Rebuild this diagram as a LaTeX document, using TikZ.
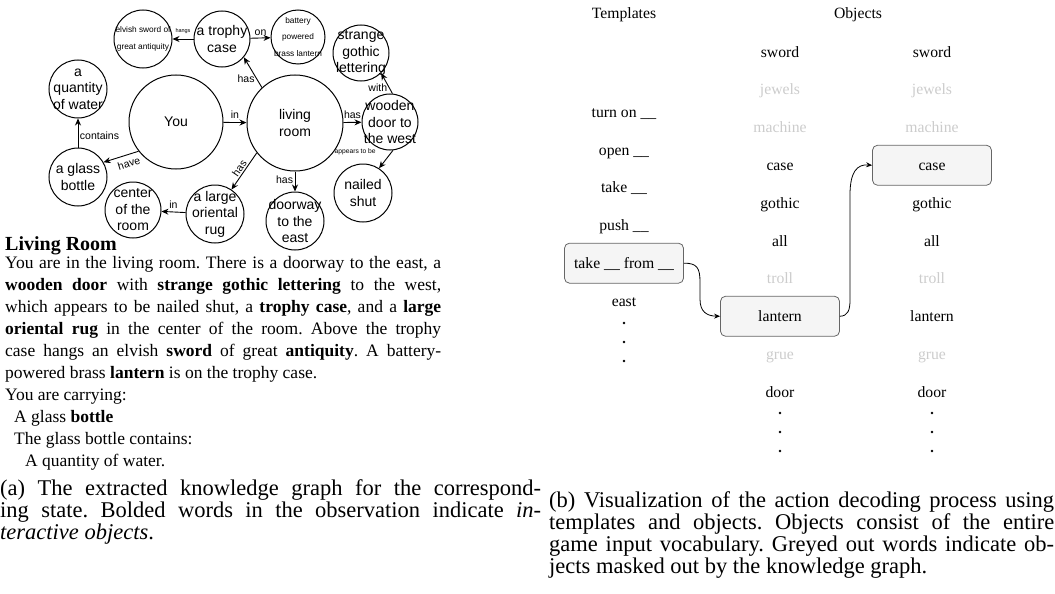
\documentclass[tikz,border=0pt]{standalone}
\usepackage{fontspec}
\setmainfont{Liberation Serif}
\newfontfamily\graphfont{Liberation Sans}
\usetikzlibrary{arrows.meta}

\definecolor{maskgray}{HTML}{CCCCCC}
\definecolor{boxfill}{HTML}{F5F5F5}
\definecolor{boxline}{HTML}{666666}

\tikzset{
  ent/.style={circle, draw, line width=1pt, inner sep=-20pt, align=center,
    font=\graphfont\fontsize{14}{16.5}\selectfont},
  entsmall/.style={ent, font=\graphfont\fontsize{8.3}{16.8}\selectfont},
  rel/.style={-{Stealth[length=7pt,width=6pt]}, line width=0.9pt},
  lbl/.style={font=\graphfont\fontsize{10.5}{12}\selectfont, inner sep=1.5pt},
  word/.style={font=\fontsize{15.7}{18}\selectfont, inner sep=0pt,
    text height=12.5pt, text depth=2pt},
  masked/.style={word, text=maskgray},
  pick/.style={word, draw=boxline, fill=boxfill, rounded corners=5pt,
    minimum width=119pt, minimum height=40pt, line width=0.8pt},
  flow/.style={-{Stealth[length=6pt,width=5pt]}, line width=0.8pt},
}

\begin{document}
\frenchspacing
\begin{tikzpicture}[x=1pt, y=-1pt]
\useasboundingbox (0,0) rectangle (1055,594);

% knowledge graph: entities
\node[ent, minimum size=94pt] (you) at (176,122) {You};
\node[ent, minimum size=96pt] (room) at (295,123) {living\\room};
\node[ent, minimum size=56pt] (trophy) at (222,39) {a trophy\\case};
\node[entsmall, minimum size=58pt] (sword) at (143,39) {elvish sword of\\great antiquity};
\node[entsmall, minimum size=54pt] (lamp) at (298,37) {battery\\powered\\brass lantern};
\node[ent, minimum size=56pt] (gothic) at (361,53) {strange\\gothic\\lettering};
\node[ent, minimum size=56pt] (door) at (390,122) {wooden\\door to\\the west};
\node[ent, minimum size=58pt] (shut) at (363,193) {nailed\\shut};
\node[ent, minimum size=58pt] (doorway) at (295,221) {doorway\\to the\\east};
\node[ent, minimum size=58pt] (rug) at (215,214) {a large\\oriental\\rug};
\node[ent, minimum size=56pt] (centre) at (133,210) {center\\of the\\room};
\node[ent, minimum size=58pt] (bottle) at (78,177) {a glass\\bottle};
\node[ent, minimum size=58pt] (water) at (78,89) {a\\quantity\\of water};

% knowledge graph: relations
\draw[rel] (you) -- node[lbl, above=2pt] {in} (room);
\draw[rel] (room.133) -- node[lbl, left, pos=0.3] {has} (trophy.-40);
\draw[rel] (trophy) -- node[lbl, above] {on} (lamp);
\draw[rel] (trophy) -- node[lbl, above=3pt, font=\graphfont\fontsize{5.5}{6}\selectfont] {hangs} (sword);
\draw[rel] (room) -- node[lbl, above=2pt] {has} (door);
\draw[rel] (door.85) -- node[lbl, left, pos=0.3] {with} (gothic.-45);
\draw[rel] (door.-84) -- node[lbl, left=14pt, pos=0.1, font=\graphfont\fontsize{6.7}{8}\selectfont] {appears to be} (shut.57);
\draw[rel] (room) -- node[lbl, left, pos=0.4] {has} (doorway);
\draw[rel] (room.218) -- node[lbl, sloped, above] {has} (rug.56);
\draw[rel] (rug) -- node[lbl, above=2pt] {in} (centre);
\draw[rel] (you.218) -- node[lbl, sloped, below=3pt, pos=0.35] {have} (bottle.30);
\draw[rel] (bottle) -- node[lbl, right, pos=0.4] {contains} (water);

% observation text
\node[anchor=north west, inner sep=0pt, text width=436pt, align=justify,
  font=\fontsize{17.5}{22}\selectfont] (obs) at (5,236) {%
{\bfseries\fontsize{20}{22}\selectfont Living Room}\\[-4pt]
You are in the living room. There is a doorway to the east, a\linebreak
\textbf{wooden door} with \textbf{strange gothic lettering} to the west,\linebreak
which appears to be nailed shut, a \textbf{trophy case}, and a \textbf{large}\linebreak
\textbf{oriental rug} in the center of the room. Above the trophy\linebreak
case hangs an elvish \textbf{sword} of great \textbf{antiquity}. A battery-\linebreak
powered brass \textbf{lantern} is on the trophy case.\\
You are carrying:\\
\hspace*{9pt}A glass \textbf{bottle}\\
\hspace*{9pt}The glass bottle contains:\\
\hspace*{20pt}A quantity of water.};

% templates column
\node[word] (tplhead) at (624,13) {Templates};
\foreach \tpl/\s [count=\i] in {turn on \_\_/word, open \_\_/word, take \_\_/word,
    push \_\_/word, take \_\_ from \_\_/pick, east/word}{
  \node[\s] (t\i) at (624,{112+37.8*(\i-1)}) {\tpl};
}
\foreach \y in {323,342,361}{
  \fill (624,\y) circle (1.3pt);
}

% object columns (grey = masked by the graph)
\node[word] (objhead) at (858,13) {Objects};
\foreach \w/\sa/\sb [count=\i] in {sword/word/word, jewels/masked/masked,
    machine/masked/masked, case/word/pick, gothic/word/word, all/word/word,
    troll/masked/masked, lantern/pick/word, grue/masked/masked, door/word/word}{
  \node[\sa] (oa\i) at (780,{52+37.75*(\i-1)}) {\w};
  \node[\sb] (ob\i) at (932,{52+37.75*(\i-1)}) {\w};
}
\foreach \y in {413,432,451}{
  \fill (780,\y) circle (1.3pt);
  \fill (932,\y) circle (1.3pt);
}

% decoding steps
\draw[flow] (t5.east) .. controls (697,263) and (700,268) .. (700,282)
  -- (700,299) .. controls (700,312) and (707,316) .. (oa8.west);
\draw[flow] (oa8.east) .. controls (848,316) and (850,310) .. (850,300)
  -- (850,195) .. controls (850,172) and (857,164) .. (ob4.west);

% captions
\node[anchor=north west, inner sep=0pt, text width=541pt, align=justify,
  font=\fontsize{22.5}{22}\selectfont] (capa) at (0,479) {(a) The extracted
  knowledge graph for the correspond-\linebreak ing state. Bolded words in the
  observation indicate \textit{in-}\linebreak \textit{teractive objects}.};
\node[anchor=north west, inner sep=0pt, text width=505pt, align=justify,
  font=\fontsize{22.5}{22}\selectfont] (capb) at (549,491) {(b) Visualization of
  the action decoding process using\linebreak templates and objects. Objects
  consist of the entire\linebreak game input vocabulary. Greyed out words
  indicate ob-\linebreak jects masked out by the knowledge graph.};

\end{tikzpicture}
\end{document}
